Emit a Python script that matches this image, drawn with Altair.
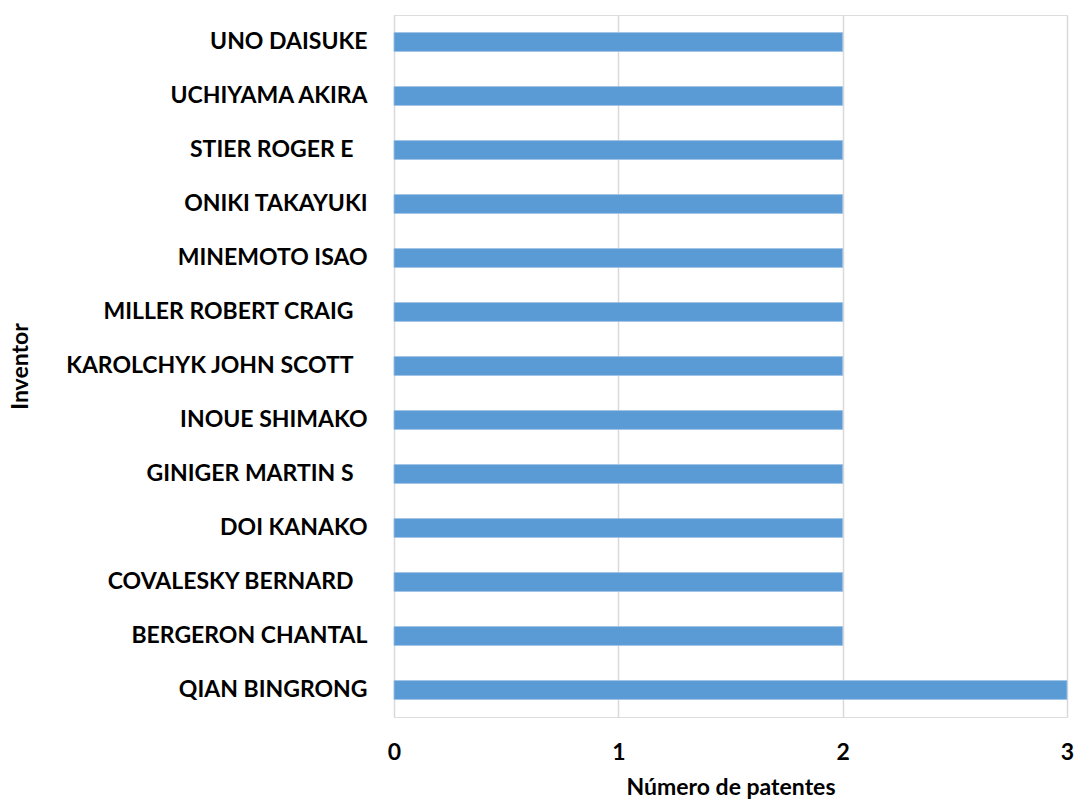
import altair as alt
import pandas as pd

inventors = [
    "UNO DAISUKE",
    "UCHIYAMA AKIRA",
    "STIER ROGER E ",
    "ONIKI TAKAYUKI",
    "MINEMOTO ISAO",
    "MILLER ROBERT CRAIG ",
    "KAROLCHYK JOHN SCOTT ",
    "INOUE SHIMAKO",
    "GINIGER MARTIN S ",
    "DOI KANAKO",
    "COVALESKY BERNARD ",
    "BERGERON CHANTAL",
    "QIAN BINGRONG",
]
patentes = [2, 2, 2, 2, 2, 2, 2, 2, 2, 2, 2, 2, 3]
x_ticks = [0, 1, 2, 3]

df = pd.DataFrame({"Inventor": inventors, "Patentes": patentes})

FONT = "Lato"
FS = 23

chart = (
    alt.Chart(df)
    .mark_bar(color="#5b9bd5", stroke="#9dc3e6", strokeWidth=0.8)
    .encode(
        x=alt.X(
            "Patentes:Q",
            scale=alt.Scale(domain=[0, 3], nice=False),
            axis=alt.Axis(
                values=x_ticks,
                format="d",
                title="Número de patentes",
                grid=True,
                gridColor="#d9d9d9",
                gridWidth=1.5,
                domain=False,
                ticks=False,
                labelFlush=False,
                labelFont=FONT,
                labelFontSize=FS,
                labelFontWeight="bold",
                labelColor="#000000",
                labelPadding=24,
                titleFont=FONT,
                titleFontSize=FS,
                titleFontWeight="bold",
                titleColor="#000000",
                titlePadding=12,
            ),
        ),
        y=alt.Y(
            "Inventor:N",
            sort=inventors,
            scale=alt.Scale(paddingInner=0.65, paddingOuter=0.325),
            axis=alt.Axis(
                title="Inventor",
                domain=False,
                ticks=False,
                grid=False,
                labelFont=FONT,
                labelFontSize=FS,
                labelFontWeight="bold",
                labelColor="#000000",
                labelPadding={
                    "condition": {"test": "slice(datum.value, -1) == ' '", "value": 41},
                    "value": 27,
                },
                labelLimit=400,
                titleFont=FONT,
                titleFontSize=FS,
                titleFontWeight="bold",
                titleColor="#000000",
                titleX=-374,
                titleBaseline="middle",
            ),
        ),
    )
    .properties(
        width=673,
        height=702,
        autosize=alt.AutoSizeParams(type="none"),
        padding={"left": 394, "top": 15, "right": 7, "bottom": 85},
    )
    .configure_view(stroke=None)
    .configure(background="#ffffff")
)

chart.save("out.html", embed_options={"renderer": "svg", "actions": False})
